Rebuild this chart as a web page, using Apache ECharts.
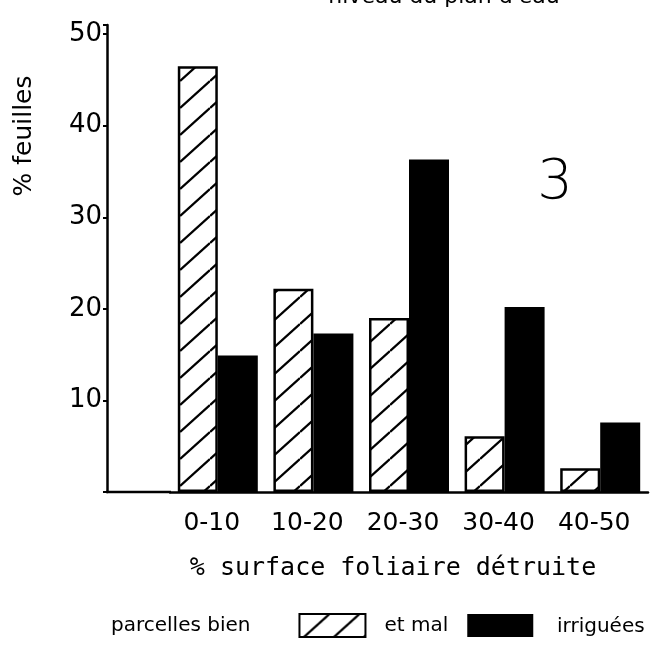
<!DOCTYPE html>
<html>
<head>
<meta charset="utf-8">
<script src="https://cdn.jsdelivr.net/npm/echarts@6/dist/echarts.min.js"></script>
<style>html,body{margin:0;padding:0;background:#fff}#c{width:672px;height:645px}</style>
</head>
<body>
<div id="c"></div>
<script>
const categories = ['0-10', '10-20', '20-30', '30-40', '40-50'];
const bienValues = [46.5, 22.2, 19.0, 6.1, 2.6];
const malValues = [14.9, 17.3, 36.3, 20.2, 7.6];
const yTickLabels = [10, 20, 30, 40, 50];

const FONT = 'DejaVu Sans';
const MONO = 'DejaVu Sans Mono';

function hatchPattern() {
  const w = 30, h = 27;
  const c = document.createElement('canvas');
  c.width = w; c.height = h;
  const g = c.getContext('2d');
  g.fillStyle = '#fff';
  g.fillRect(0, 0, w, h);
  g.strokeStyle = '#000';
  g.lineWidth = 2.3;
  for (let k = -1; k <= 1; k++) {
    g.beginPath();
    g.moveTo(0, h + k * h);
    g.lineTo(w, k * h);
    g.stroke();
  }
  return { image: c, repeat: 'repeat' };
}
const hatch = hatchPattern();

const chart = echarts.init(document.getElementById('c'), null, { renderer: 'canvas' });
chart.setOption({
  animation: false,
  backgroundColor: '#fff',
  grid: { left: 170, right: 24, top: 25, bottom: 153, containLabel: false },
  xAxis: {
    type: 'category',
    data: categories,
    axisLine: { lineStyle: { color: '#000', width: 2.5 } },
    axisTick: { show: false },
    axisLabel: { color: '#000', fontFamily: FONT, fontSize: 25, margin: 19, padding: [0, 12, 0, 0] },
    name: '% surface foliaire détruite',
    nameLocation: 'middle',
    nameGap: 64,
    nameTextStyle: { color: '#000', fontFamily: MONO, fontSize: 25, padding: [0, 32, 0, 0] }
  },
  yAxis: {
    type: 'value',
    min: 0,
    max: 51,
    interval: 10,
    offset: 63,
    axisLine: { show: true, lineStyle: { color: '#000', width: 2.5 } },
    axisTick: { show: true, length: 4, lineStyle: { color: '#000', width: 2 } },
    splitLine: { show: false },
    axisLabel: {
      color: '#000', fontFamily: FONT, fontSize: 26, margin: 5,
      formatter: v => (yTickLabels.indexOf(v) >= 0 ? String(v) : '')
    }
  },
  legend: {
    left: 106,
    top: 608,
    align: 'right',
    itemGap: 18,
    itemWidth: 66,
    itemHeight: 23,
    icon: 'rect',
    textStyle: { color: '#000', fontFamily: FONT, fontSize: 20 },
    data: [
      { name: 'parcelles bien', itemStyle: { color: hatch, borderColor: '#000', borderWidth: 2 },
        textStyle: { padding: [0, 44, 0, 0] } },
      { name: 'et mal', itemStyle: { color: '#000', borderWidth: 0 },
        textStyle: { padding: [0, 14, 0, 0] } }
    ]
  },
  series: [
    {
      name: 'parcelles bien',
      type: 'bar',
      data: bienValues,
      barWidth: 40,
      barGap: '0%',
      itemStyle: { color: hatch, borderColor: '#000', borderWidth: 2.5 }
    },
    {
      name: 'et mal',
      type: 'bar',
      data: malValues,
      barWidth: 40,
      itemStyle: { color: '#000' }
    }
  ],
  graphic: [
    { type: 'line', shape: { x1: 106, y1: 492, x2: 171, y2: 492 }, style: { stroke: '#000', lineWidth: 2.5 } },
    { type: 'text', x: 24, y: 136, rotation: Math.PI / 2,
      style: { text: '% feuilles', fill: '#000', font: '25px "DejaVu Sans"', align: 'center', verticalAlign: 'middle' } },
    { type: 'text', x: 555, y: 183,
      style: { text: '3', fill: '#000', font: '200 56px "DejaVu Sans"', align: 'center', verticalAlign: 'middle' } },
    { type: 'text', x: 444, y: 8,
      style: { text: "niveau du plan d'eau", fill: '#000', font: '22px "DejaVu Sans"', align: 'center', verticalAlign: 'bottom' } },
    { type: 'text', x: 557, y: 627,
      style: { text: 'irriguées', fill: '#000', font: '20px "DejaVu Sans"', align: 'left', verticalAlign: 'middle' } }
  ]
});
</script>
</body>
</html>
